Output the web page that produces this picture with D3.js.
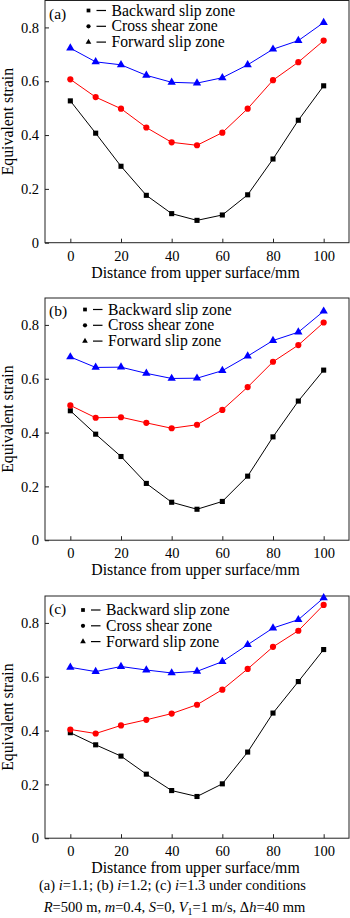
<!DOCTYPE html>
<html>
<head>
<meta charset="utf-8">
<script src="https://cdn.jsdelivr.net/npm/d3@7"></script>
<style>
  body { margin:0; background:#fff; }
  svg { display:block; font-family:"Liberation Serif","Times New Roman",serif; }
</style>
</head>
<body>
<div id="chart"></div>
<script>
// distance from upper surface (mm)
const distance = [0, 10, 20, 30, 40, 50, 60, 70, 80, 90, 100];

// (a) i=1.1
const backwardA = [0.527, 0.407, 0.284, 0.176, 0.108, 0.083, 0.103, 0.178, 0.311, 0.455, 0.583];
const crossA    = [0.607, 0.541, 0.498, 0.428, 0.373, 0.362, 0.409, 0.498, 0.604, 0.671, 0.751];
const forwardA  = [0.723, 0.672, 0.661, 0.622, 0.596, 0.593, 0.613, 0.661, 0.719, 0.751, 0.818];

// (b) i=1.2
const backwardB = [0.481, 0.394, 0.311, 0.211, 0.141, 0.115, 0.144, 0.238, 0.384, 0.517, 0.632];
const crossB    = [0.501, 0.455, 0.457, 0.436, 0.416, 0.429, 0.484, 0.569, 0.663, 0.725, 0.809];
const forwardB  = [0.681, 0.642, 0.643, 0.620, 0.601, 0.602, 0.630, 0.684, 0.742, 0.773, 0.851];

// (c) i=1.3
const backwardC = [0.392, 0.347, 0.305, 0.238, 0.177, 0.155, 0.202, 0.320, 0.465, 0.582, 0.701];
const crossC    = [0.404, 0.389, 0.419, 0.440, 0.463, 0.496, 0.552, 0.629, 0.711, 0.771, 0.867];
const forwardC  = [0.635, 0.619, 0.638, 0.625, 0.614, 0.620, 0.656, 0.719, 0.781, 0.812, 0.893];

const seriesNames = ["Backward slip zone", "Cross shear zone", "Forward slip zone"];
const xTicks = [0, 20, 40, 60, 80, 100];
const yTicks = [0, 0.2, 0.4, 0.6, 0.8];
const yTickLabels = ["0", "0.2", "0.4", "0.6", "0.8"];

const panels = [
  { tag:"(a)", top:0.5, series:[backwardA, crossA, forwardA], leg:{ x:88.5, y:10.5 } },
  { tag:"(b)", top:298, series:[backwardB, crossB, forwardB], leg:{ x:85, y:309.5 } },
  { tag:"(c)", top:596, series:[backwardC, crossC, forwardC], leg:{ x:83, y:610 } }
];

const W = 350, H = 918;
const colors = ["#000000", "#ff0000", "#0000ff"];
const shapes = [d3.symbolSquare, d3.symbolCircle, d3.symbolTriangle];
const sizes = [26, 30, 30];

const svg = d3.select("#chart").append("svg").attr("width", W).attr("height", H);

const x = d3.scaleLinear().domain([-10, 110]).range([45, 349]);

panels.forEach(p => {
  const bottom = p.top + 242.2;
  const y = d3.scaleLinear().domain([0, 0.9]).range([bottom, p.top]);
  const g = svg.append("g");

  // frame
  g.append("rect")
    .attr("x", x(-10)).attr("y", p.top)
    .attr("width", x(110) - x(-10)).attr("height", bottom - p.top)
    .attr("fill", "none").attr("stroke", "#222").attr("stroke-width", 1);

  // axes, inward ticks
  const xAxis = d3.axisBottom(x).tickValues(xTicks).tickSizeInner(-4).tickSizeOuter(0).tickPadding(8);
  const gx = g.append("g").attr("transform", `translate(0,${bottom})`).call(xAxis);
  gx.select(".domain").remove();
  gx.selectAll("line").attr("stroke", "#222");
  gx.selectAll("text").style("font-size", "14.5px").attr("fill", "#000")
    .attr("font-family", "Liberation Serif");

  const yAxis = d3.axisLeft(y).tickValues(yTicks).tickFormat((d, i) => yTickLabels[i])
    .tickSizeInner(-4).tickSizeOuter(0).tickPadding(6);
  const gy = g.append("g").attr("transform", `translate(${x(-10)},0)`).call(yAxis);
  gy.select(".domain").remove();
  gy.selectAll("line").attr("stroke", "#222");
  gy.selectAll("text").style("font-size", "14.5px").attr("fill", "#000")
    .attr("font-family", "Liberation Serif");

  // axis titles
  g.append("text")
    .attr("x", 195.5).attr("y", bottom + 35)
    .attr("text-anchor", "middle").style("font-size", "15.8px")
    .text("Distance from upper surface/mm");
  g.append("text")
    .attr("transform", `translate(13,${(p.top + bottom) / 2}) rotate(-90)`)
    .attr("text-anchor", "middle").style("font-size", "15.8px")
    .text("Equivalent strain");

  // panel tag
  g.append("text").attr("x", 49).attr("y", p.top + 18).style("font-size", "15.5px").text(p.tag);

  // series
  const line = d3.line().x((d, i) => x(distance[i])).y(d => y(d));
  p.series.forEach((vals, k) => {
    g.append("path").datum(vals)
      .attr("d", line).attr("fill", "none")
      .attr("stroke", colors[k]).attr("stroke-width", 1);
    g.selectAll(null).data(vals).join("path")
      .attr("transform", (d, i) => `translate(${x(distance[i])},${y(d)})`)
      .attr("d", d3.symbol().type(shapes[k]).size(sizes[k]))
      .attr("fill", colors[k]);
  });

  // legend
  seriesNames.forEach((name, k) => {
    const ly = p.leg.y + k * 15.8;
    g.append("path")
      .attr("transform", `translate(${p.leg.x},${ly})`)
      .attr("d", d3.symbol().type(shapes[k]).size(14))
      .attr("fill", "#000");
    g.append("line")
      .attr("x1", p.leg.x + 8).attr("x2", p.leg.x + 17.5)
      .attr("y1", ly).attr("y2", ly)
      .attr("stroke", "#000").attr("stroke-width", 1.2);
    g.append("text")
      .attr("x", p.leg.x + 23).attr("y", ly + 5)
      .style("font-size", "15.7px")
      .text(name);
  });
});

// caption
const cap = svg.append("g").style("font-size", "14.5px").attr("text-anchor", "middle");
const c1 = cap.append("text").attr("x", 172.5).attr("y", 890);
[["(a) ", false], ["i", true], ["=1.1; (b) ", false], ["i", true], ["=1.2; (c) ", false], ["i", true], ["=1.3 under conditions", false]]
  .forEach(([t, it]) => c1.append("tspan").style("font-style", it ? "italic" : "normal").text(t));
const c2 = cap.append("text").attr("x", 174.5).attr("y", 911.5);
[["R", true], ["=500 m, ", false], ["m", true], ["=0.4, ", false], ["S", true], ["=0, ", false], ["V", true]]
  .forEach(([t, it]) => c2.append("tspan").style("font-style", it ? "italic" : "normal").text(t));
c2.append("tspan").attr("dy", 3).style("font-size", "10px").text("1");
c2.append("tspan").attr("dy", -3).text("=1 m/s, Δ");
c2.append("tspan").style("font-style", "italic").text("h");
c2.append("tspan").text("=40 mm");
</script>
</body>
</html>
